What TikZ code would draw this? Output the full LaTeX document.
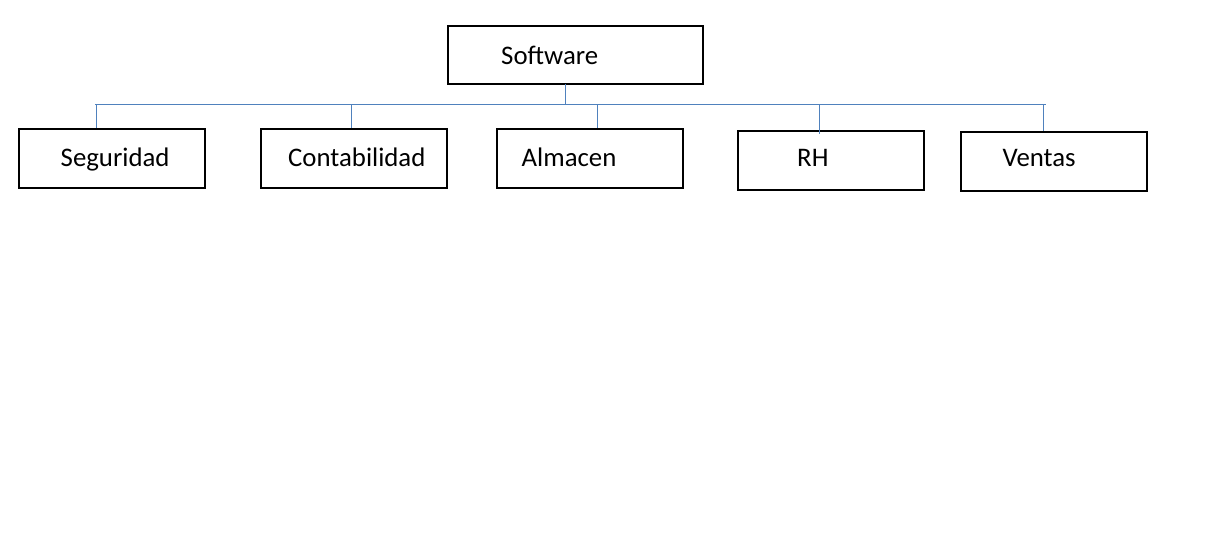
\documentclass[tikz,border=0pt]{standalone}
\usepackage{fontspec}
\setmainfont{Carlito}
\begin{document}
\begin{tikzpicture}[x=1pt,y=-1pt,
  box/.style={draw=black,line width=1.1pt,minimum width=186pt,minimum height=59pt,inner sep=0pt},
  txt/.style={anchor=base west,inner sep=0pt,font=\fontsize{26.8}{31}\selectfont},
  conn/.style={draw={rgb,255:red,79;green,129;blue,189},line width=1pt}]
\useasboundingbox (0,0) rectangle (1224,546);
\fill[white] (0,0) rectangle (1224,546);
% boxes
\node[box,minimum width=255pt,minimum height=58pt] (sw) at (575.5,55) {};
\node[box] (seg) at (112,158.5) {};
\node[box] (con) at (354,158.5) {};
\node[box] (alm) at (590,158.5) {};
\node[box] (rh)  at (831,160.5) {};
\node[box] (ven) at (1054,161.5) {};
% texts
\node[txt] (tsw) at (501,64.5) {Software};
\node[txt] (tseg) at (60.5,166) {Seguridad};
\node[txt] (tcon) at (288,166) {Contabilidad};
\node[txt] (talm) at (521.5,166) {Almacen};
\node[txt] (trh) at (797,166) {RH};
\node[txt] (tven) at (1002.5,166) {Ventas};
% connectors
\coordinate (top) at (565,84);
\coordinate (bus) at (565,104);
\coordinate (busL) at (95,104);
\coordinate (busR) at (1046,104);
\coordinate (d1) at (96,104);
\coordinate (d2) at (351,104);
\coordinate (d3) at (597,104);
\coordinate (d4) at (819,104);
\coordinate (d5) at (1043,104);
\draw[conn] (top) -- (bus);
\draw[conn] (busL) -- (busR);
\draw[conn] (d1) -- (d1 |- seg.north);
\draw[conn] (d2) -- (d2 |- con.north);
\draw[conn] (d3) -- (d3 |- alm.north);
\draw[conn] (d4) -- ([yshift=-4pt]d4 |- rh.north);
\draw[conn] (d5) -- (d5 |- ven.north);
\end{tikzpicture}
\end{document}
